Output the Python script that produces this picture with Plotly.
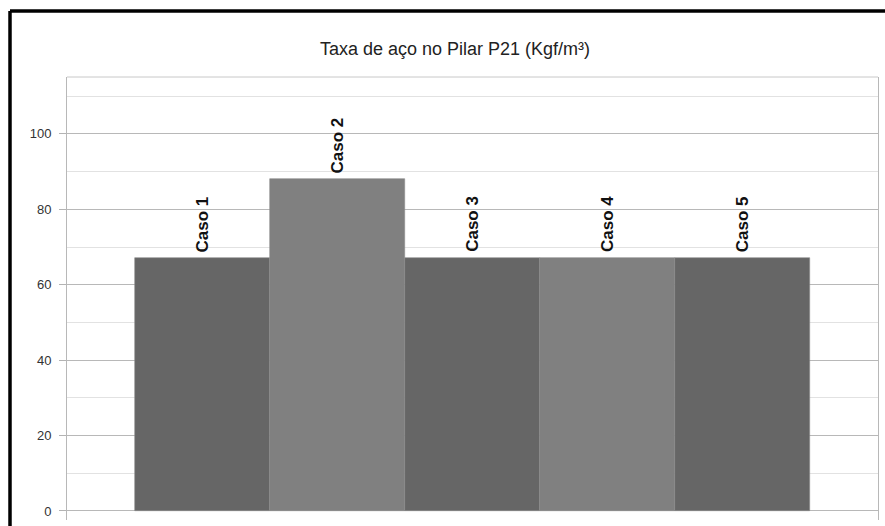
import plotly.graph_objects as go

categories = ["Caso 1", "Caso 2", "Caso 3", "Caso 4", "Caso 5"]
values = [67, 88, 67, 67, 67]
bar_colors = ["#666666", "#808080", "#666666", "#808080", "#666666"]
title_text = "Taxa de aço no Pilar P21 (Kgf/m³)"
y_ticks = [0, 20, 40, 60, 80, 100]

W, H = 885, 526
L, R, T, B = 67, 7, 77, 6
pw, ph = W - L - R, H - T - B

def px_x(px):
    return (px - L) / pw

def px_y(py):
    return (H - B - py) / ph

fig = go.Figure()
fig.add_trace(go.Bar(
    x=categories, y=values,
    marker=dict(color=bar_colors, line=dict(color="#8c8c8c", width=0.6)),
    hoverinfo="skip",
))

annotations = [
    dict(x=c, y=v, xref="x", yref="y", text=c, textangle=-90, showarrow=False,
         xanchor="center", yanchor="bottom", yshift=4,
         font=dict(family="Liberation Sans", size=17, color="#111111", weight="bold"))
    for c, v in zip(categories, values)
]

fig.update_layout(
    width=W, height=H,
    margin=dict(l=L, r=R, t=T, b=B),
    paper_bgcolor="white", plot_bgcolor="white",
    bargap=0, showlegend=False,
    font=dict(family="Liberation Sans", color="#444444"),
    title=dict(text=title_text, x=455 / W, xanchor="center", xref="container",
               y=1 - 49 / H, yanchor="middle",
               font=dict(family="Liberation Sans", size=18, color="#222222")),
    xaxis=dict(range=[-1, 5], showticklabels=False, ticks="", showgrid=False,
               zeroline=False, showline=False, fixedrange=True),
    yaxis=dict(range=[-2.4, 115.1], tickvals=y_ticks, ticks="outside", ticklen=7,
               tickcolor="#b3b3b3", tickfont=dict(size=13, color="#333333"),
               ticklabelstandoff=5,
               showgrid=True, gridcolor="#b8b8b8", gridwidth=1,
               minor=dict(dtick=10, tick0=0, showgrid=True, gridcolor="#e2e2e2", gridwidth=1, ticks=""),
               zeroline=True, zerolinecolor="#b8b8b8", zerolinewidth=1,
               showline=True, linecolor="#b8b8b8", linewidth=1, mirror=True,
               fixedrange=True),
    annotations=annotations,
    shapes=[
        # plot-wall top edge
        dict(type="line", xref="paper", yref="paper", x0=0, x1=1, y0=1, y1=1,
             line=dict(color="#c8c8c8", width=1)),
        # outer black frame (document border)
        dict(type="line", xref="paper", yref="paper", x0=px_x(10), x1=px_x(10),
             y0=px_y(11), y1=px_y(540), line=dict(color="black", width=3.5)),
        dict(type="line", xref="paper", yref="paper", x0=px_x(10), x1=px_x(900),
             y0=px_y(11), y1=px_y(11), line=dict(color="black", width=3.5)),
    ],
)

fig.write_html("out.html")
